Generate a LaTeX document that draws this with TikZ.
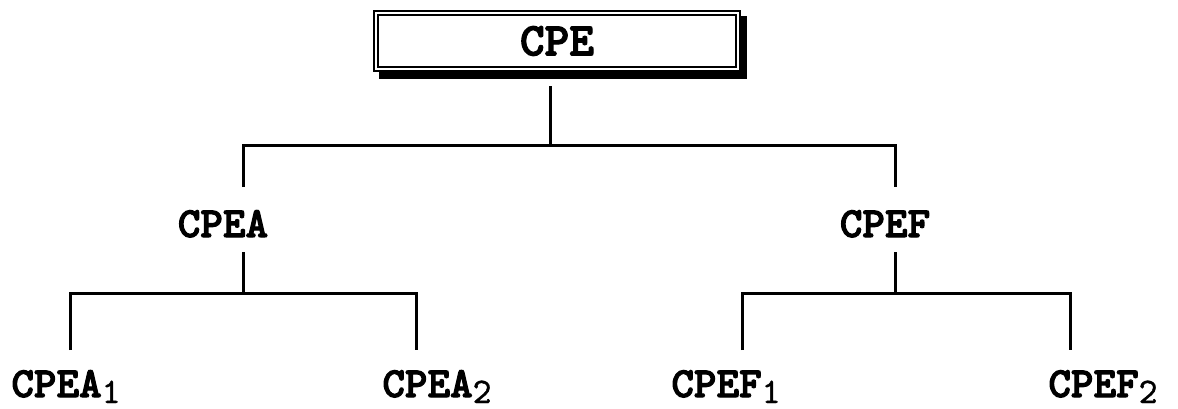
\documentclass[tikz,border=0pt]{standalone}
\usepackage{fontspec}
\newfontfamily\cpefont{lmmonolt10-bold.otf}[FakeBold=2.5]
\newfontfamily\idxfont{lmmono10-regular.otf}[FakeBold=1]
\usetikzlibrary{backgrounds}
\newcommand{\lowidx}[1]{\raisebox{-6pt}{\fontsize{36}{36}\selectfont\idxfont#1}}
\begin{document}
\begin{tikzpicture}[x=1pt, y=-1pt,
    tree/.style={line width=3pt},
    lbl/.style={font=\fontsize{43}{45}\selectfont\cpefont, inner sep=0pt, anchor=base}]
  \useasboundingbox (0,0) rectangle (1178,408);
  %
  \node[draw, double, line width=2.2pt, double distance=1.8pt, fill=white,
        minimum width=362pt, minimum height=56pt, inner sep=0pt, outer sep=0pt,
        font=\fontsize{47}{49}\selectfont\cpefont] (cpe) at (557,41) {CPE};
  \begin{scope}[on background layer]
    \fill ([shift={(2.9,3.4)}]cpe.north west) rectangle ([shift={(9.1,9.6)}]cpe.south east);
  \end{scope}
  %
  \coordinate (cpefoot) at (550,86);
  \coordinate (cpeahead) at (243,187);
  \coordinate (cpefhead) at (895,187);
  \draw[tree] (cpefoot) -- ++(0,59);
  \draw[tree] (cpeahead) -- ++(0,-42) -| (cpefhead);
  %
  \node[lbl] (cpea) at (223,237) {CPEA};
  \node[lbl] (cpef) at (885,237) {CPEF};
  %
  \coordinate (cpeafoot) at (243,252);
  \coordinate (cpea1head) at (70,350);
  \coordinate (cpea2head) at (416,350);
  \draw[tree] (cpeafoot) -- ++(0,40);
  \draw[tree] (cpea1head) -- ++(0,-57) -| (cpea2head);
  %
  \coordinate (cpeffoot) at (895,252);
  \coordinate (cpef1head) at (742,350);
  \coordinate (cpef2head) at (1070,350);
  \draw[tree] (cpeffoot) -- ++(0,40);
  \draw[tree] (cpef1head) -- ++(0,-57) -| (cpef2head);
  %
  \node[lbl] (cpea1) at (66,397) {CPEA\lowidx{1}};
  \node[lbl] (cpea2) at (437,397) {CPEA\lowidx{2}};
  \node[lbl] (cpef1) at (726,397) {CPEF\lowidx{1}};
  \node[lbl] (cpef2) at (1103,397) {CPEF\lowidx{2}};
  %
\end{tikzpicture}
\end{document}
